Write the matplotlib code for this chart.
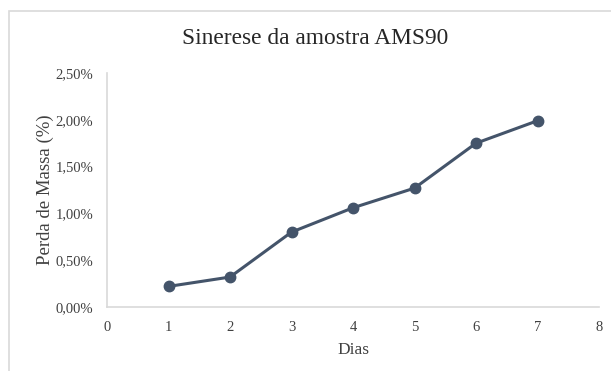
import matplotlib
matplotlib.use("Agg")
import matplotlib.pyplot as plt
from matplotlib.patches import Rectangle
from matplotlib.ticker import FuncFormatter, MultipleLocator

dias = [1, 2, 3, 4, 5, 6, 7]
perda = [0.0022, 0.0032, 0.0080, 0.0106, 0.0127, 0.0175, 0.0199]
titulo = "Sinerese da amostra AMS90"
xlabel = "Dias"
ylabel = "Perda de Massa (%)"

plt.rcParams['font.family'] = ['Liberation Serif', 'DejaVu Serif']

W, H = 611, 371
fig = plt.figure(figsize=(W/100, H/100), dpi=100)
fig.patches.append(Rectangle((9/W, -0.1), 1.2, 1 - 11/H + 0.1, transform=fig.transFigure,
                             fill=False, edgecolor='#d9d9d9', linewidth=1.2))

ax = fig.add_axes([107/W, 1 - 307/H, (599-107)/W, (307-73)/H])
ax.plot(dias, perda, color='#44546a', linewidth=2.2, marker='o', markersize=7.5, zorder=3)
ax.set_xlim(0, 8)
ax.set_ylim(0, 0.025)
ax.xaxis.set_major_locator(MultipleLocator(1))
ax.yaxis.set_major_locator(MultipleLocator(0.005))
ax.yaxis.set_major_formatter(FuncFormatter(lambda v, p: f"{v*100:.2f}%".replace('.', ',')))
for s in ['top', 'right']:
    ax.spines[s].set_visible(False)
for s in ['left', 'bottom']:
    ax.spines[s].set_color('#d9d9d9')
    ax.spines[s].set_linewidth(1.2)
ax.tick_params(length=0, labelsize=10.5, labelcolor='#404040')
ax.tick_params(axis='y', pad=10)
ax.tick_params(axis='x', pad=10)
ax.set_xlabel(xlabel, fontsize=12.5, color='#404040', labelpad=6)
ax.set_ylabel(ylabel, fontsize=13.5, color='#404040', labelpad=1)
fig.text(315/W, 1 - 39/H, titulo, ha='center', va='center', fontsize=16.8, color='#262626')

fig.savefig("out.png", dpi=100)
